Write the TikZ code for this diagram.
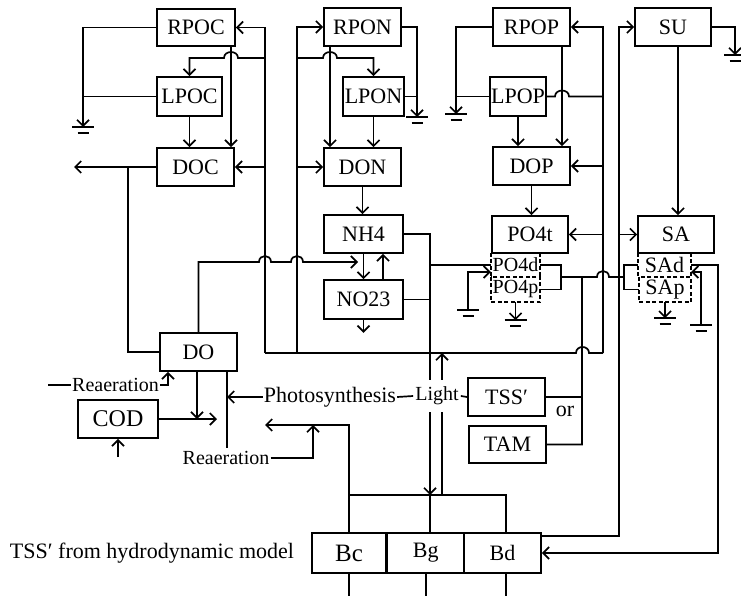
\documentclass[tikz,border=0pt]{standalone}
\usepackage{fontspec}
\setmainfont{Liberation Serif}
\usetikzlibrary{arrows.meta,calc}
\newcommand\fsz[1]{\fontsize{#1}{#1}\selectfont}
\tikzset{
 ln/.style={line width=1.7pt},
 arr/.style={line width=1.7pt, -{Straight Barb[length=6pt,width=12pt]}},
 box/.style={draw, line width=1.7pt, inner sep=0pt, font=\fsz{22}},
 dbox/.style={inner sep=0pt, font=\fsz{20}},
 dsh/.style={line width=1.5pt, dash pattern=on 4pt off 2.5pt},
 lbl/.style={inner sep=1pt, font=\fsz{22}},
 gnd/.pic={\draw[line width=1.7pt] (-11,0)--(11,0); \draw[line width=1.7pt] (-5.5,6)--(5.5,6);}
}
\begin{document}
\begin{tikzpicture}[x=1pt,y=-1pt]
\useasboundingbox (0,0) rectangle (741,596);
% nodes
\node[box, minimum width=78pt, minimum height=37pt] (RPOC) at (196,27.5) {RPOC};
\node[box, minimum width=65pt, minimum height=39pt] (LPOC) at (189.5,96.5) {LPOC};
\node[box, minimum width=77pt, minimum height=38pt] (DOC) at (195.5,167) {DOC};
\node[box, minimum width=77pt, minimum height=38pt] (RPON) at (362.5,27) {RPON};
\node[box, minimum width=61pt, minimum height=39pt] (LPON) at (373.5,96.5) {LPON};
\node[box, minimum width=77pt, minimum height=38pt] (DON) at (362.5,167) {DON};
\node[box, minimum width=77pt, minimum height=38pt] (RPOP) at (531.5,27) {RPOP};
\node[box, minimum width=56pt, minimum height=39pt] (LPOP) at (518,96.5) {LPOP};
\node[box, minimum width=77pt, minimum height=38pt] (DOP) at (531.5,166) {DOP};
\node[box, minimum width=76pt, minimum height=38pt] (SU) at (673,27) {SU};
\node[box, minimum width=79pt, minimum height=38pt] (NH4) at (363.5,234) {NH4};
\node[box, minimum width=79pt, minimum height=39pt] (NO23) at (363.5,299.5) {NO23};
\node[box, minimum width=76pt, minimum height=37pt] (PO4t) at (530,234.5) {PO4t};
\node[dbox, minimum width=49pt, minimum height=24pt] (PO4d) at (515.5,265) {PO4d};
\node[dbox, minimum width=49pt, minimum height=25pt] (PO4p) at (515.5,289.5) {PO4p};
\node[box, minimum width=76pt, minimum height=37pt] (SA) at (676,234.5) {SA};
\node[dbox, font=\fsz{22}, minimum width=53pt, minimum height=24pt] (SAd) at (664.5,265) {SAd};
\node[dbox, font=\fsz{22}, minimum width=52pt, minimum height=25pt] (SAp) at (665,289.5) {SAp};
\node[box, minimum width=77pt, minimum height=38pt] (DO) at (198.5,352) {DO};
\node[box, font=\fsz{24}, minimum width=80pt, minimum height=38pt] (COD) at (118,419) {COD};
\node[box, minimum width=77pt, minimum height=38pt] (TSS) at (506.5,397) {TSS′};
\node[box, minimum width=77pt, minimum height=37pt] (TAM) at (507.5,444.5) {TAM};
\node[box, font=\fsz{25}, minimum width=74pt, minimum height=40pt] (Bc) at (349,553) {Bc};
\node[box, minimum width=76.5pt, minimum height=40pt] (Bg) at (425.75,553) {Bg};
\node[box, minimum width=77pt, minimum height=40pt] (Bd) at (502.5,553) {Bd};
% labels
\node[lbl, font=\fsz{20}] (ReaL) at (115.5,385) {Reaeration};
\node[lbl, font=\fsz{20}] (ReaB) at (226,458) {Reaeration};
\node[lbl] (Photo) at (330,397) {Photosynthesis};
\node[lbl, font=\fsz{20}, inner xsep=2pt, inner ysep=7pt] (Light) at (437,396) {Light};
\node[lbl] (orl) at (565,411) {or};
\node[lbl] (TSSm) at (152,553) {TSS′ from hydrodynamic model};
% dashed boxes
\draw[dsh] (PO4d.north west) -- (PO4d.south west);
\draw[dsh] (PO4d.north east) -- (PO4d.south east);
\draw[dsh] (PO4p.north west) rectangle (PO4p.south east);
\draw[dsh] (SAd.north west) -- (SAd.south west);
\draw[dsh] (SAd.north east) -- (SAd.south east);
\draw[dsh] (SAp.north west) rectangle (SAp.south east);
% coordinates
\coordinate (b1) at (265,353);
\coordinate (b2) at (297,353);
\coordinate (b3) at (603,353);
\coordinate (h1) at (0,58);
\coordinate (xA) at (231,0);
\coordinate (xB) at (330,0);
\coordinate (xC) at (562,0);
\coordinate (xD) at (383,0);
\coordinate (xE) at (678,0);
\coordinate (xS) at (619,0);
\coordinate (xF) at (718,0);
\coordinate (xG) at (128,0);
\coordinate (xH) at (197,0);
\coordinate (xI) at (227,0);
\coordinate (xr) at (168,0);
\coordinate (xN) at (430,0);
\coordinate (xLt) at (442,0);
\coordinate (xT) at (582,0);
\coordinate (xd) at (506,0);
\coordinate (yB) at (0,495);
\coordinate (yJ) at (0,277);
\coordinate (g1) at (83,127);
\coordinate (g2) at (417,117);
\coordinate (g3) at (456,114);
\coordinate (g4) at (735,55);
\coordinate (g5) at (701,325);
\coordinate (g8) at (468,310);
\coordinate (nit) at (358,262);
\coordinate (oDOC) at (74,167);
\coordinate (oCOD) at (217,419);
\coordinate (iCOD) at (118,457);
\coordinate (rl) at (48,385);
\coordinate (rb) at (313,425);
\coordinate (ra) at (265,425);
\coordinate (ie) at (227,448);
% carbon column
\draw[arr] (RPOC.west) -| (g1);
\draw[ln] (LPOC.west) -- (LPOC.west -| g1);
\pic at (g1) {gnd};
\draw[arr] (RPOC.south -| xA) -- (DOC.north -| xA);
\draw[arr] (LPOC.south) -- (LPOC.south |- DOC.north);
\draw[arr] (b1) |- (RPOC.east);
\draw[arr] (b1 |- DOC.east) -- (DOC.east);
\draw[arr] (b1 |- h1) -- (238,58) .. controls (238,50) and (224,50) .. (224,58) -- (LPOC.north |- h1) -- (LPOC.north);
% nitrogen column
\draw[arr] (b2) |- (RPON.west);
\draw[arr] (b2 |- DON.west) -- (DON.west);
\draw[arr] (b2 |- h1) -- (323,58) .. controls (323,50) and (337,50) .. (337,58) -- (LPON.north |- h1) -- (LPON.north);
\draw[arr] (RPON.south -| xB) -- (DON.north -| xB);
\draw[arr] (LPON.south) -- (LPON.south |- DON.north);
\draw[arr] (RPON.east) -| (g2);
\draw[ln] (LPON.east) -- (LPON.east -| g2);
\pic at (g2) {gnd};
\draw[arr] (DON.south) -- (DON.south |- NH4.north);
\draw[arr] (NH4.south) -- (NH4.south |- NO23.north);
\draw[arr] (NO23.north -| xD) -- (NH4.south -| xD);
\draw[arr] (NO23.south) -- ++(0,13);
% phosphorus column
\draw[arr] (RPOP.west) -| (g3);
\draw[ln] (LPOP.west) -- (LPOP.west -| g3);
\pic at (g3) {gnd};
\draw[arr] (RPOP.south -| xC) -- (DOP.north -| xC);
\draw[arr] (LPOP.south) -- (LPOP.south |- DOP.north);
\draw[arr] (b3) |- (RPOP.east);
\draw[arr] (b3 |- DOP.east) -- (DOP.east);
\draw[arr] (b3 |- PO4t.east) -- (PO4t.east);
\draw[ln] (LPOP.east) -- (555,96.5) .. controls (555,88.5) and (569,88.5) .. (569,96.5) -- (LPOP.east -| b3);
\draw[arr] (DOP.south) -- (DOP.south |- PO4t.north);
\draw[arr] (PO4p.south) -- ++(0,18) coordinate (g7);
\pic at (g7) {gnd};
\draw[arr] (g8) |- ($(PO4d.west)+(0,7)$);
\pic at (g8) {gnd};
% bus
\draw[ln] (b1) -- (576,353) .. controls (576,345) and (589,345) .. (589,353) -- (b3);
% silica
\draw[arr] (SU.east) -| (g4);
\pic at (g4) {gnd};
\draw[arr] (SU.south -| xE) -- (SA.north -| xE);
\draw[arr] ($(Bd.north east)+(0,4)$) -| (xS |- SU.west) -- (SU.west);
\draw[arr] (xS |- SA.west) -- (SA.west);
\draw[arr] (SAd.east) -| (xF |- Bd.east) -- (Bd.east);
\draw[arr] (g5) |- ($(SAd.east)+(0,7)$);
\pic at (g5) {gnd};
\draw[arr] (SAp.south) -- ++(0,16) coordinate (g6);
\pic at (g6) {gnd};
% sorption links
\draw[ln] (PO4d.east) -| (561,289.5) -- (PO4p.east);
\draw[ln] (561,277) -- (xT |- yJ);
\draw[ln] (SAd.west) -| (624,289.5) -- (SAp.west);
\draw[ln] (TAM.east) -| (xT |- yJ) -- (597,277) .. controls (597,269) and (609,269) .. (609,277) -- (624,277);
\draw[ln] (TSS.east) -- (TSS.east -| xT);
% DO
\draw[arr] (DO.north) |- (259,262) .. controls (259,254) and (271,254) .. (271,262) -- (291,262) .. controls (291,254) and (303,254) .. (303,262) -- (nit);
\draw[arr] (DOC.west) -- (oDOC);
\draw[ln] (DOC.west -| xG) |- (DO.west);
\draw[ln] (rl) -- (ReaL.west);
\draw[arr] (ReaL.east) -| (DO.south -| xr);
\draw[arr] (DO.south -| xH) -- (xH |- COD.east);
\draw[arr] (COD.east) -- (oCOD);
\draw[ln] (DO.south -| xI) -- (ie);
\draw[arr] (Photo.west) -- (Photo.west -| xI);
\draw[arr] (iCOD) -- (COD.south);
\draw[ln] (Photo.east) -- (Light.west);
\draw[ln] (Light.east) -- (TSS.west);
% nutrients to algae
\draw[ln] (NH4.east) -| (xN |- Light.north);
\draw[ln] (NO23.east) -- (NO23.east -| xN);
\draw[ln] (PO4d.west -| xN) -- (PO4d.west);
\draw[arr] (xN |- Light.south) -- (xN |- yB);
\draw[arr] (xLt |- Light.north) -- (xLt |- b1);
\draw[ln] (xLt |- yB) -- (xLt |- Light.south);
% algae bus
\draw[ln] (Bc.north |- yB) -- (xd |- yB) -- (xd |- Bd.north);
\draw[ln] (xN |- yB) -- (xN |- Bg.north);
\draw[arr] (Bc.north) |- (ra);
\draw[arr] (ReaB.east) -| (rb);
\draw[ln] (Bc.south) -- ++(0,25);
\draw[ln] (Bg.south) -- ++(0,25);
\draw[ln] (Bd.south -| xd) -- ++(0,25);
\end{tikzpicture}
\end{document}
